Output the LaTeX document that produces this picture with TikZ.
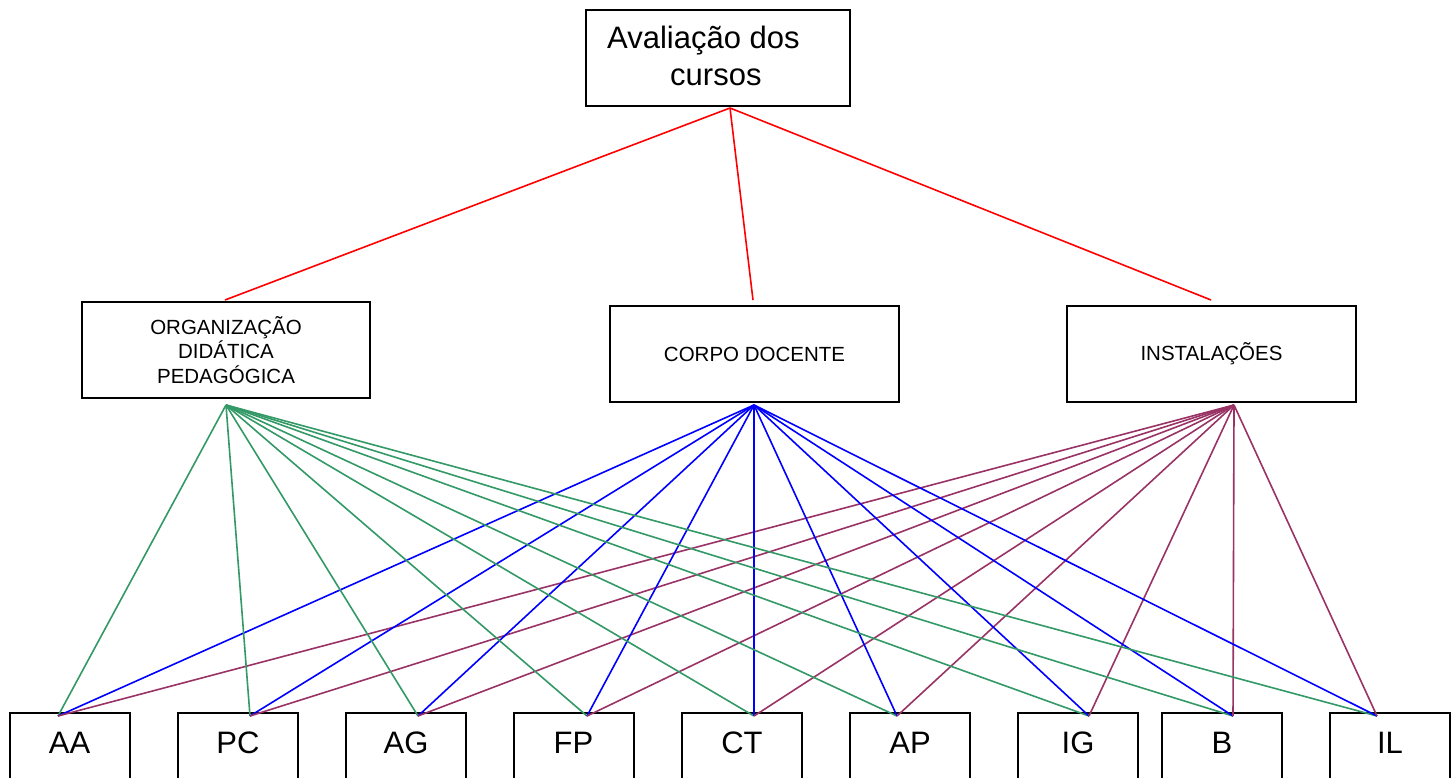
\documentclass[tikz,border=0pt]{standalone}
\usepackage{fontspec}
\setmainfont{Liberation Sans}
\definecolor{lred}{RGB}{255,0,0}
\definecolor{lgreen}{RGB}{51,153,102}
\definecolor{lblue}{RGB}{0,0,255}
\definecolor{lpurple}{RGB}{153,51,102}
\begin{document}
\begin{tikzpicture}[x=1pt,y=-1pt,
  box/.style={draw=black,line width=2pt,inner sep=0pt},
  bigtxt/.style={inner sep=0pt,font=\fontsize{31}{37}\selectfont},
  midtxt/.style={font=\fontsize{20.5}{24.2}\selectfont},
  redl/.style={draw=lred,line width=1.6pt},
  grnl/.style={draw=lgreen,line width=1.6pt},
  blul/.style={draw=lblue,line width=1.6pt},
  purl/.style={draw=lpurple,line width=1.6pt}]
\clip (0,0) rectangle (1455,778);
\fill[white] (0,0) rectangle (1455,778);
% top box
\node[box,minimum width=264pt,minimum height=96pt] (top) at (718,58) {};
\node[bigtxt,anchor=base west] (t1) at (607,49) {Avaliação dos};
\node[bigtxt,anchor=base west] (t2) at (670,86) {cursos};
% middle boxes
\node[box,midtxt,align=center,minimum width=288pt,minimum height=96pt] (org) at (226,350)
  {ORGANIZAÇÃO\\DIDÁTICA\\PEDAGÓGICA};
\node[box,midtxt,minimum width=289pt,minimum height=96pt] (corpo) at (754.5,354) {CORPO DOCENTE};
\node[box,midtxt,minimum width=289pt,minimum height=96pt] (inst) at (1211.5,354) {INSTALAÇÕES};
% bottom boxes
\foreach \n/\cx/\t in {aa/69.5/AA,pc/238/PC,ag/406/AG,fp/573.5/FP,ct/742/CT,ap/910/AP,ig/1078/IG,b/1222/B,il/1390/IL}{
  \node[box,minimum width=120pt,minimum height=87pt] (\n) at (\cx,756.5) {};
  \node[bigtxt,anchor=base] (\n t) at (\cx,753) {\t};
}
% connector points
\coordinate (topB) at (730,108);
\coordinate (orgT) at (225,300);
\coordinate (corpoT) at (753,300);
\coordinate (instT) at (1211,300);
\coordinate (orgB) at (226,405);
\coordinate (corpoB) at (754,405);
\coordinate (instB) at (1234,405);
\foreach \n/\ex in {aa/58,pc/250,ag/418,fp/587,ct/754,ap/897,ig/1089,b/1233,il/1377}{
  \coordinate (\n T) at (\ex,716);
}
% red connectors
\draw[redl] (topB) -- (orgT);
\draw[redl] (topB) -- (corpoT);
\draw[redl] (topB) -- (instT);
% lower connectors
\foreach \n in {aa,pc,ag,fp,ct,ap,ig,b,il}{
  \draw[grnl] (orgB) -- (\n T);
  \draw[blul] (corpoB) -- (\n T);
  \draw[purl] (instB) -- (\n T);
}
\end{tikzpicture}
\end{document}
